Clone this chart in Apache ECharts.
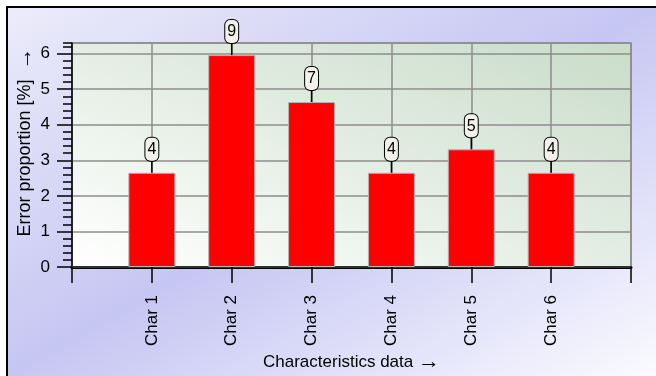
<!DOCTYPE html>
<html>
<head>
<meta charset="utf-8">
<script src="https://cdn.jsdelivr.net/npm/echarts@6/dist/echarts.min.js"></script>
<style>
  html, body { margin: 0; padding: 0; background: #ffffff; overflow: hidden; }
  #chart { width: 656px; height: 376px; }
</style>
</head>
<body>
<div id="chart"></div>
<script>
// Characteristics and their error share
const categories = ['Char 1', 'Char 2', 'Char 3', 'Char 4', 'Char 5', 'Char 6'];
const errorPercent = [2.65, 5.96, 4.64, 2.65, 3.31, 2.65];
const errorCounts = [4, 9, 7, 4, 5, 4];
const yTicks = [0, 1, 2, 3, 4, 5, 6];

const FONT = '"Liberation Sans", Arial, sans-serif';

// Empty slots at both ends leave a half-step of room around the bars
const axisCategories = [''].concat(categories, ['']);
const barData = ['-'].concat(errorPercent, ['-']);
const labelData = errorPercent.map((v, i) => [i + 1, v, errorCounts[i]]);

const nameStyle = {
  fontFamily: FONT, fontSize: 17, color: '#000',
  rich: { arr: { fontFamily: FONT, fontSize: 22, color: '#000' } }
};

const chart = echarts.init(document.getElementById('chart'), null, { renderer: 'canvas' });

chart.setOption({
  animation: false,
  backgroundColor: '#ffffff',
  graphic: [{
    type: 'rect',
    z: -10,
    shape: { x: 7, y: 7, width: 700, height: 420 },
    style: {
      fill: new echarts.graphic.LinearGradient(173, -87, 489, 469, [
        { offset: 0, color: '#ececfa' },
        { offset: 0.5, color: '#c6c6f3' },
        { offset: 1, color: '#fafaff' }
      ], true),
      stroke: '#000000',
      lineWidth: 2
    }
  }],
  grid: {
    left: 72, right: 25, top: 43, bottom: 109,
    outerBoundsMode: 'none',
    containLabel: false,
    show: true,
    borderColor: '#8c8c8c',
    borderWidth: 1.5,
    backgroundColor: new echarts.graphic.LinearGradient(274, 348, 429, -38, [
      { offset: 0, color: '#ffffff' },
      { offset: 1, color: '#c9dcc9' }
    ], true)
  },
  xAxis: [{
    type: 'category',
    data: axisCategories,
    boundaryGap: false,
    name: 'Characteristics data {arr|\u2192}',
    nameLocation: 'middle',
    nameGap: 84,
    nameMoveOverlap: false,
    nameTextStyle: nameStyle,
    axisLine: { show: true, onZero: false, lineStyle: { color: '#000', width: 3 } },
    axisTick: { show: true, length: 16, alignWithLabel: true, lineStyle: { color: '#000', width: 1.5 } },
    axisLabel: {
      rotate: 90, margin: 28, interval: 0,
      fontFamily: FONT, fontSize: 17, color: '#000'
    },
    splitLine: { show: true, lineStyle: { color: '#8c8c8c', width: 1.5 } }
  }, {
    type: 'category',
    data: axisCategories,
    boundaryGap: false,
    position: 'top',
    axisLine: { show: true, lineStyle: { color: '#303030', width: 2 } },
    axisTick: { show: false },
    axisLabel: { show: false },
    splitLine: { show: false }
  }],
  yAxis: [{
    type: 'value',
    min: 0, max: 6.3, interval: 1,
    name: 'Error proportion [%]  {arr|\u2192}',
    nameLocation: 'middle',
    nameGap: 36,
    nameMoveOverlap: false,
    nameTextStyle: Object.assign({}, nameStyle, { fontSize: 18, padding: [0, 0, 0, 26] }),
    axisLine: { show: true, lineStyle: { color: '#000', width: 1.5 } },
    axisTick: { show: true, length: 15, lineStyle: { color: '#000', width: 1.5 } },
    axisLabel: {
      margin: 22, showMaxLabel: false,
      fontFamily: FONT, fontSize: 17, color: '#000',
      formatter: v => (yTicks.indexOf(v) >= 0 ? String(v) : '')
    },
    splitLine: { show: true, lineStyle: { color: '#8c8c8c', width: 1.5 } }
  }, {
    // fine ticks every 0.2
    type: 'value',
    min: 0, max: 6.3, interval: 0.2,
    position: 'left',
    axisLine: { show: false },
    axisTick: { show: true, length: 9, lineStyle: { color: '#000', width: 1.5 } },
    axisLabel: { show: false },
    splitLine: { show: false }
  }],
  series: [{
    type: 'bar',
    data: barData,
    barWidth: 47,
    itemStyle: { color: '#ff0000', borderColor: '#b4b4b4', borderWidth: 1 },
    z: 3
  }, {
    type: 'custom',
    data: labelData,
    z: 5,
    renderItem: (params, api) => {
      const pt = api.coord([api.value(0), api.value(1)]);
      const lead = 12;
      return {
        type: 'group',
        children: [{
          type: 'line',
          shape: { x1: pt[0], y1: pt[1], x2: pt[0], y2: pt[1] - lead },
          style: { stroke: '#000', lineWidth: 1.5 }
        }, {
          type: 'text',
          x: pt[0],
          y: pt[1] - lead,
          style: {
            text: String(api.value(2)),
            align: 'center',
            verticalAlign: 'bottom',
            font: '16px ' + FONT,
            fill: '#000',
            backgroundColor: '#f2f2ea',
            borderColor: '#000',
            borderWidth: 1,
            borderRadius: 5,
            padding: [4, 2, 3, 2]
          }
        }]
      };
    }
  }]
});
</script>
</body>
</html>
